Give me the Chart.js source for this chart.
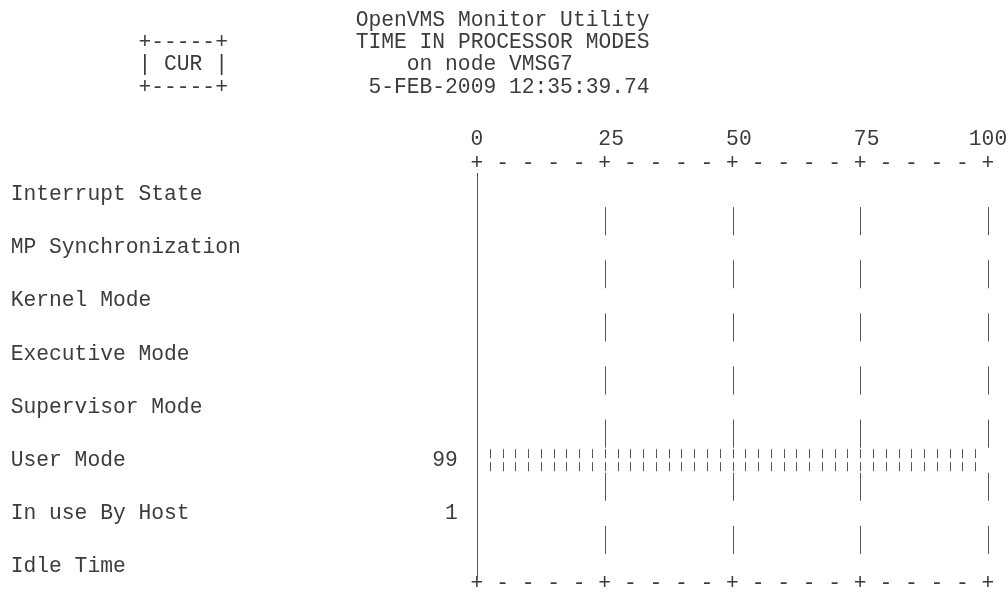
<!DOCTYPE html>
<html>
<head>
<meta charset="utf-8">
<title>OpenVMS Monitor Utility - TIME IN PROCESSOR MODES</title>
<script src="https://cdn.jsdelivr.net/npm/chart.js@4"></script>
<style>
    html, body { margin: 0; background: #fff; }
    canvas { display: block; }
</style>
</head>
<body>
<canvas id="modesChart" width="1008" height="596"></canvas>
<script>
// screen data
const categories = [
    'Interrupt State',
    'MP Synchronization',
    'Kernel Mode',
    'Executive Mode',
    'Supervisor Mode',
    'User Mode',
    'In use By Host',
    'Idle Time'
];
const curValues = [0, 0, 0, 0, 0, 99, 1, 0];
const scaleTicks = [0, 25, 50, 75, 100];
const titleLines = [
    'OpenVMS Monitor Utility',
    'TIME IN PROCESSOR MODES',
    'on node VMSG7',
    '5-FEB-2009 12:35:39.74'
];
const boxLines = ['', '+-----+', '| CUR |', '+-----+'];

const FONT = '21.3px "Liberation Mono", "DejaVu Sans Mono", monospace';
const TEXT_COLOR = '#3c3c3c';
const LINE_COLOR = '#555';
const STEP = 2.5; // one screen column = 2.5 %

// text screen columns, the 0 of the scale sits on column 37
const AXIS_COL = 37;
const titleCols = [28, 28, 32, 29];
const boxCol = 11;
const titleY = [20, 42, 64, 87];

function vLine(ctx, x, y1, y2) {
    const px = Math.round(x) + 0.5;
    ctx.beginPath();
    ctx.moveTo(px, y1);
    ctx.lineTo(px, y2);
    ctx.stroke();
}

const screenPlugin = {
    id: 'vmsScreen',
    afterDatasetsDraw(chart) {
        const ctx = chart.ctx;
        const x = chart.scales.x;
        const y = chart.scales.y;
        const x0 = x.getPixelForValue(0);
        const cw = (x.getPixelForValue(100) - x0) / (100 / STEP);
        const colLeft = c => x0 - cw / 2 + (c - AXIS_COL) * cw;

        ctx.save();
        ctx.font = FONT;
        ctx.fillStyle = TEXT_COLOR;
        ctx.strokeStyle = LINE_COLOR;
        ctx.lineWidth = 1;
        ctx.textBaseline = 'middle';

        // header
        ctx.textAlign = 'left';
        titleLines.forEach((t, i) => ctx.fillText(t, colLeft(titleCols[i]), titleY[i]));
        boxLines.forEach((t, i) => { if (t) ctx.fillText(t, colLeft(boxCol), titleY[i]); });

        // scale numbers
        const tickY = 139;
        scaleTicks.forEach((v, i) => {
            const shift = i === scaleTicks.length - 1 ? 1.5 : 0.5;
            ctx.fillText(String(v), x.getPixelForValue(v) - shift * cw, tickY);
        });

        // top and bottom "+ - - - - +" rulers
        ctx.textAlign = 'center';
        const rulerY = [163, 583];
        for (let k = 0; k <= 100 / STEP; k++) {
            const px = x.getPixelForValue(k * STEP);
            const ch = k % 10 === 0 ? '+' : (k % 2 === 0 ? '-' : '');
            if (ch) rulerY.forEach(ry => ctx.fillText(ch, px, ry));
        }

        // axis line
        vLine(ctx, x0, 173, 578);

        // labels, values and grid pieces
        const rowY = categories.map((c, i) => y.getPixelForValue(i));
        categories.forEach((label, i) => {
            ctx.textAlign = 'left';
            ctx.fillText(label, colLeft(1), rowY[i]);
            if (curValues[i] > 0) {
                ctx.textAlign = 'right';
                ctx.fillText(String(curValues[i]), colLeft(AXIS_COL - 1), rowY[i]);
            }
            if (i < categories.length - 1) {
                const mid = (rowY[i] + rowY[i + 1]) / 2;
                scaleTicks.slice(1).forEach(v => vLine(ctx, x.getPixelForValue(v), mid - 14, mid + 14));
            }
        });

        // bars as broken-bar columns, one per 2.5 %
        const meta = chart.getDatasetMeta(0);
        meta.data.forEach((bar, i) => {
            const n = Math.floor(curValues[i] / STEP);
            for (let k = 1; k <= n; k++) {
                const px = x.getPixelForValue(k * STEP);
                vLine(ctx, px, bar.y - 11, bar.y - 2);
                vLine(ctx, px, bar.y + 2, bar.y + 11);
            }
        });

        ctx.restore();
    }
};

const chart = new Chart(document.getElementById('modesChart'), {
    type: 'bar',
    data: {
        labels: categories,
        datasets: [{
            label: 'CUR',
            data: curValues,
            backgroundColor: 'rgba(0,0,0,0)',
            borderWidth: 0
        }]
    },
    options: {
        indexAxis: 'y',
        responsive: false,
        animation: false,
        devicePixelRatio: 1,
        layout: { padding: { left: 477, right: 20, top: 168, bottom: 3 } },
        scales: {
            x: { display: false, min: 0, max: 100 },
            y: { display: false }
        },
        plugins: {
            legend: { display: false },
            tooltip: { enabled: false }
        }
    },
    plugins: [screenPlugin]
});
</script>
</body>
</html>
